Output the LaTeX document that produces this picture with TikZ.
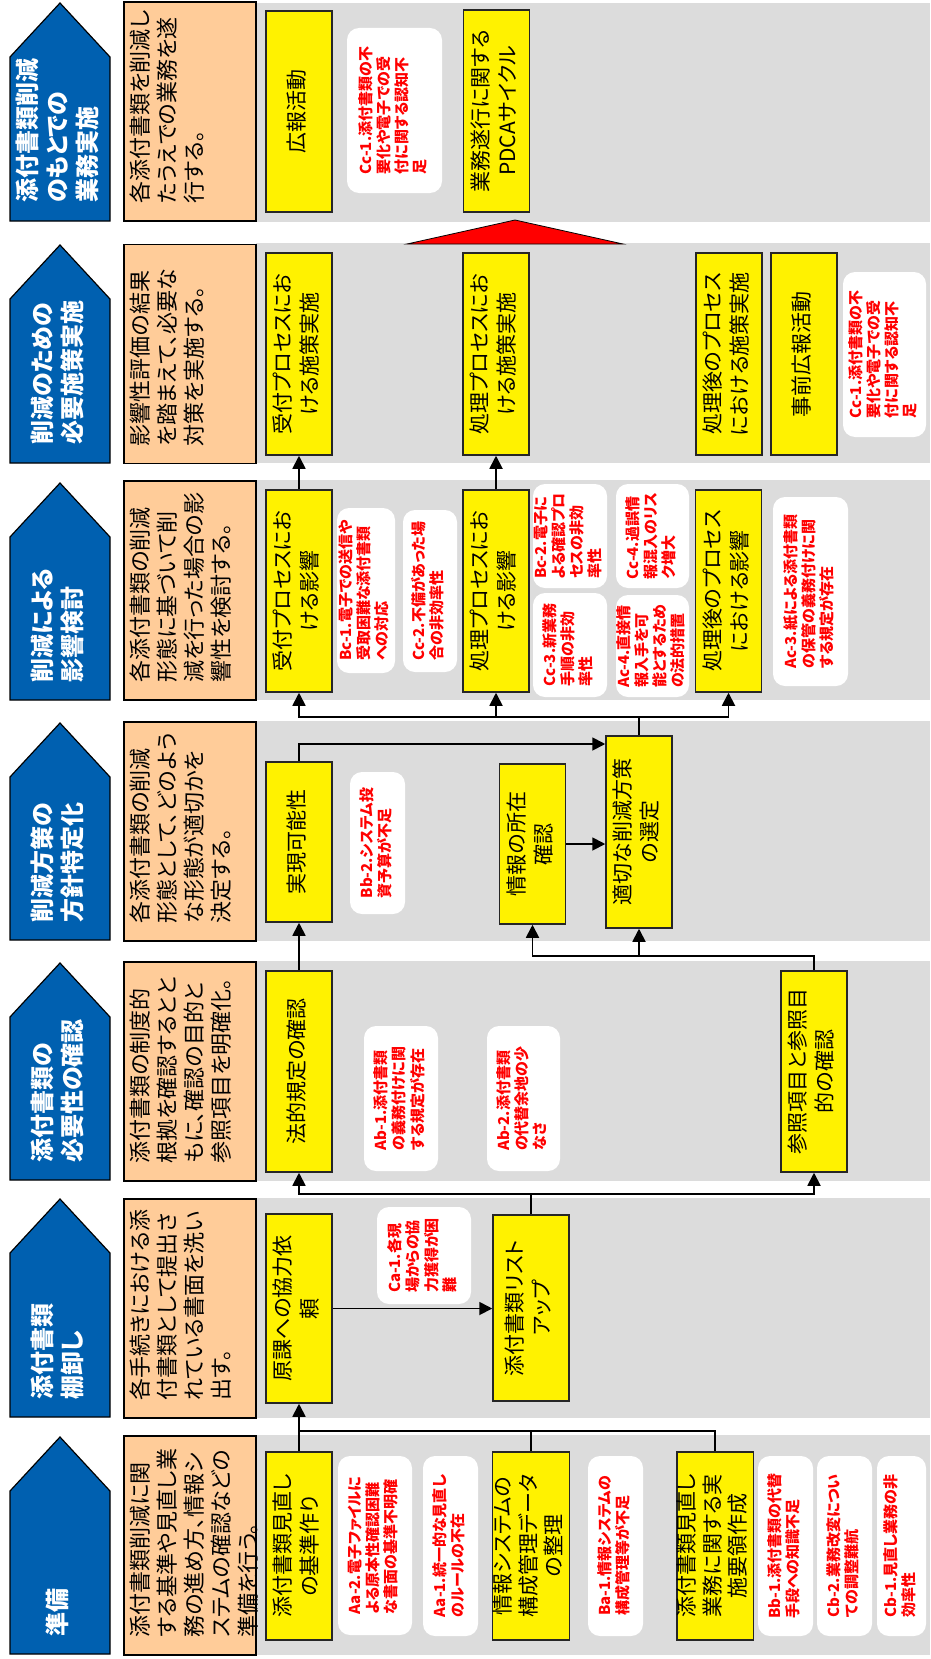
\documentclass[tikz,border=0pt]{standalone}
\usepackage{graphicx}
\usepackage{fontspec}
\setmainfont{Noto Sans CJK JP}[RawFeature=+palt]
\usetikzlibrary{arrows.meta, positioning}
\definecolor{stageblue}{RGB}{0,96,176}
\definecolor{descpeach}{RGB}{255,204,153}
\definecolor{bandgrey}{RGB}{220,220,220}
\newcommand{\vtextc}[1]{\rotatebox{90}{\begin{tabular}{@{}c@{}}#1\end{tabular}}}
\newcommand{\vtextl}[1]{\rotatebox{90}{\begin{tabular}{@{}l@{}}#1\end{tabular}}}

\begin{document}
\begin{tikzpicture}[
    x=1pt, y=-1pt,
    band/.style={fill=bandgrey, draw=none},
    stagearrow/.style={fill=stageblue, draw=black, line width=1.2pt},
    stagelabel/.style={
        text=white,
        inner sep=0pt,
        font=\bfseries\fontsize{24}{30}\selectfont
    },
    descbox/.style={
        rectangle,
        draw=black,
        line width=1.5pt,
        fill=descpeach,
        minimum width=132pt,
        minimum height=219pt
    },
    desctext/.style={
        inner sep=0pt,
        font=\fontsize{22}{27}\selectfont
    },
    taskbox/.style={
        rectangle,
        draw=black!85,
        line width=1.5pt,
        fill=yellow,
        minimum width=66pt,
        inner sep=0pt,
        font=\fontsize{21}{27}\selectfont
    },
    issuebox/.style={
        rectangle,
        rounded corners=12pt,
        fill=white,
        text=red,
        inner sep=0pt,
        font=\bfseries\fontsize{15}{17.5}\selectfont
    },
    link/.style={line width=1.8pt},
    arrow/.style={-{Triangle[width=13pt,length=13pt]}, line width=1.8pt}
]

\useasboundingbox (0,0) rectangle (930,1659);

\fill[band] (256,3) rectangle (930,222);
\fill[band] (256,243) rectangle (930,463);
\fill[band] (256,480) rectangle (930,700);
\fill[band] (256,721) rectangle (930,941);
\fill[band] (256,961) rectangle (930,1181);
\fill[band] (256,1198) rectangle (930,1418);
\fill[band] (256,1435) rectangle (930,1655);

\draw[stagearrow] (10,221) -- (10,57) -- (60,3) -- (110,57) -- (110,221) -- cycle;
\draw[stagearrow] (10,463) -- (10,299) -- (60,245) -- (110,299) -- (110,463) -- cycle;
\draw[stagearrow] (10,700) -- (10,537) -- (60,483) -- (110,537) -- (110,700) -- cycle;
\draw[stagearrow] (10,940) -- (10,777) -- (60,723) -- (110,777) -- (110,940) -- cycle;
\draw[stagearrow] (10,1180) -- (10,1017) -- (60,963) -- (110,1017) -- (110,1180) -- cycle;
\draw[stagearrow] (10,1417) -- (10,1253) -- (60,1199) -- (110,1253) -- (110,1417) -- cycle;
\draw[stagearrow] (10,1654) -- (10,1491) -- (60,1437) -- (110,1491) -- (110,1654) -- cycle;

\node[stagelabel, anchor=south] (st7) at (60,203) {\vtextl{添付書類削減\\のもとでの\\業務実施}};
\node[stagelabel, anchor=south] (st6) at (60,445) {\vtextl{削減のための\\必要施策実施}};
\node[stagelabel, anchor=south] (st5) at (60,683) {\vtextl{削減による\\影響検討}};
\node[stagelabel, anchor=south] (st4) at (60,923) {\vtextl{削減方策の\\方針特定化}};
\node[stagelabel, anchor=south] (st3) at (60,1163) {\vtextl{添付書類の\\必要性の確認}};
\node[stagelabel, anchor=south] (st2) at (60,1400) {\vtextl{添付書類\\棚卸し}};
\node[stagelabel, anchor=south] (st1) at (60,1637) {\vtextl{準備}};

\node[descbox] (d7) at (190,111.5) {};
\node[descbox] (d6) at (190,354) {};
\node[descbox] (d5) at (190,590.5) {};
\node[descbox] (d4) at (190,831.5) {};
\node[descbox] (d3) at (190,1071.5) {};
\node[descbox] (d2) at (190,1308.5) {};
\node[descbox] (d1) at (190,1545.5) {};

\node[desctext, above right=18pt and 6pt of d7.south west] (d7t) {\vtextl{各添付書類を削減し\\たうえでの業務を遂\\行する。}};
\node[desctext, above right=18pt and 6pt of d6.south west] (d6t) {\vtextl{影響性評価の結果\\を踏まえて、必要な\\対策を実施する。}};
\node[desctext, above right=18pt and 6pt of d5.south west] (d5t) {\vtextl{各添付書類の削減\\形態に基づいて削\\減を行った場合の影\\響性を検討する。}};
\node[desctext, above right=18pt and 6pt of d4.south west] (d4t) {\vtextl{各添付書類の削減\\形態として、どのよう\\な形態が適切かを\\決定する。}};
\node[desctext, above right=18pt and 6pt of d3.south west] (d3t) {\vtextl{添付書類の制度的\\根拠を確認するとと\\もに、確認の目的と\\参照項目を明確化。}};
\node[desctext, above right=18pt and 6pt of d2.south west] (d2t) {\vtextl{各手続きにおける添\\付書類として提出さ\\れている書面を洗い\\出す。}};
\node[desctext, above right=18pt and 6pt of d1.south west] (d1t) {\vtextl{添付書類削減に関\\する基準や見直し業\\務の進め方、情報シ\\ステムの確認などの\\準備を行う。}};

\node[taskbox, minimum height=201pt] (pr) at (299,111.5) {\vtextc{広報活動}};
\node[taskbox, minimum height=202pt] (pdca) at (496.5,111) {\vtextc{業務遂行に関する\\PDCAサイクル}};

\node[taskbox, minimum height=202pt] (ukeAct) at (299,354) {\vtextc{受付プロセスにお\\ける施策実施}};
\node[taskbox, minimum height=202pt] (shoriAct) at (496,354) {\vtextc{処理プロセスにお\\ける施策実施}};
\node[taskbox, minimum height=202pt] (shorigoAct) at (729,354) {\vtextc{処理後のプロセス\\における施策実施}};
\node[taskbox, minimum height=202pt] (prePr) at (804,354) {\vtextc{事前広報活動}};

\node[taskbox, minimum height=202pt] (ukeImp) at (299,591) {\vtextc{受付プロセスにお\\ける影響}};
\node[taskbox, minimum height=202pt] (shoriImp) at (496,591) {\vtextc{処理プロセスにお\\ける影響}};
\node[taskbox, minimum height=202pt] (shorigoImp) at (728.5,591) {\vtextc{処理後のプロセス\\における影響}};

\node[taskbox, minimum height=160pt] (jitsugen) at (299,842) {\vtextc{実現可能性}};
\node[taskbox, minimum height=160pt] (shozai) at (532.5,844) {\vtextc{情報の所在\\確認}};
\node[taskbox, minimum height=192pt] (tekisetsu) at (639,832) {\vtextc{適切な削減方策\\の選定}};

\node[taskbox, minimum height=201pt] (houteki) at (299,1071.5) {\vtextc{法的規定の確認}};
\node[taskbox, minimum height=201pt] (sansho) at (814,1071.5) {\vtextc{参照項目と参照目\\的の確認}};

\node[taskbox, minimum height=189pt] (genka) at (299,1308.5) {\vtextc{原課への協力依\\頼}};
\node[taskbox, minimum height=186pt, minimum width=76pt] (listup) at (531,1308) {\vtextc{添付書類リスト\\アップ}};

\node[taskbox, minimum height=188pt] (kijun) at (299,1546) {\vtextc{添付書類見直し\\の基準作り}};
\node[taskbox, minimum height=188pt, minimum width=76pt, font=\fontsize{21}{25.5}\selectfont] (sysdata) at (531,1546) {\vtextc{情報システムの\\構成管理データ\\の整理}};
\node[taskbox, minimum height=188pt, minimum width=76pt, font=\fontsize{21}{25.5}\selectfont] (youryou) at (715,1546) {\vtextc{添付書類見直し\\業務に関する実\\施要領作成}};

\node[issuebox, minimum width=95pt, minimum height=165pt] (iCc1a) at (394.5,110.5) {\vtextl{Cc-1.添付書類の不\\要化や電子での受\\付に関する認知不\\足}};
\node[issuebox, minimum width=83pt, minimum height=165pt] (iCc1b) at (884.5,354.5) {\vtextl{Cc-1.添付書類の不\\要化や電子での受\\付に関する認知不\\足}};
\node[issuebox, minimum width=58pt, minimum height=165pt] (iBc1) at (366,590.5) {\vtextl{Bc-1.電子での送信や\\受取困難な添付書類\\への対応}};
\node[issuebox, minimum width=54pt, minimum height=162pt] (iCc2) at (430,591) {\vtextl{Cc-2.不備があった場\\合の非効率性}};
\node[issuebox, minimum width=74pt, minimum height=104pt] (iBc2) at (570,536) {\vtextl{Bc-2.電子に\\よる確認プロ\\セスの非効\\率性}};
\node[issuebox, minimum width=74pt, minimum height=104pt] (iCc3) at (570,645) {\vtextl{Cc-3.新業務\\手順の非効\\率性}};
\node[issuebox, minimum width=73pt, minimum height=104pt] (iCc4) at (652.5,536) {\vtextl{Cc-4.過誤情\\報混入のリス\\ク増大}};
\node[issuebox, minimum width=73pt, minimum height=102pt] (iAc4) at (652.5,646) {\vtextl{Ac-4.直接情\\報入手を可\\能とするため\\の法的措置}};
\node[issuebox, minimum width=75pt, minimum height=189pt] (iAc3) at (810.5,591.5) {\vtextl{Ac-3.紙による添付書類\\の保管の義務付けに関\\する規定が存在}};
\node[issuebox, minimum width=55pt, minimum height=142pt] (iBb2) at (377.5,843) {\vtextl{Bb-2.システム投\\資予算が不足}};
\node[issuebox, minimum width=74pt, minimum height=145pt] (iAb1) at (401,1098.5) {\vtextl{Ab-1.添付書類\\の義務付けに関\\する規定が存在}};
\node[issuebox, minimum width=73pt, minimum height=145pt] (iAb2) at (523.5,1098.5) {\vtextl{Ab-2.添付書類\\の代替余地の少\\なさ}};
\node[issuebox, minimum width=94pt, minimum height=97pt] (iCa1) at (424,1255.5) {\vtextl{Ca-1.各現\\場からの協\\力獲得が困\\難}};
\node[issuebox, minimum width=74pt, minimum height=179pt] (iAa2) at (375,1545.5) {\vtextl{Aa-2.電子ファイルに\\よる原本性確認困難\\な書面の基準不明確}};
\node[issuebox, minimum width=55pt, minimum height=180pt] (iAa1) at (450.5,1546) {\vtextl{Aa-1.統一的な見直し\\のルールの不在}};
\node[issuebox, minimum width=55pt, minimum height=180pt] (iBa1) at (615.5,1546) {\vtextl{Ba-1.情報システムの\\構成管理等が不足}};
\node[issuebox, minimum width=55pt, minimum height=180pt] (iBb1) at (785.5,1546) {\vtextl{Bb-1.添付書類の代替\\手段への知識不足}};
\node[issuebox, minimum width=55pt, minimum height=180pt] (iCb2) at (844.5,1546) {\vtextl{Cb-2.業務改変につい\\ての調整難航}};
\node[issuebox, minimum width=49pt, minimum height=180pt] (iCb1) at (901.5,1546) {\vtextl{Cb-1.見直し業務の非\\効率性}};

\draw[fill=red, line width=0.8pt] (407,244) -- (515,220) -- (623,244) -- cycle;

\coordinate (j1) at (299,1431);
\coordinate (j2) at (531,1194);
\coordinate (j3) at (814,956);
\coordinate (j4) at (299,744);
\coordinate (j5) at (639,717);

\draw[link] (kijun.north) -- (j1) -| (sysdata.north);
\draw[link] (j1) -| (youryou.north);
\draw[arrow] (j1) -- (genka.south);
\draw[arrow] (genka.east) -- (genka.east -| listup.west);
\draw[link] (listup.north) -- (j2);
\draw[arrow] (j2) -| (houteki.south);
\draw[arrow] (j2) -| (sansho.south);
\draw[arrow] (houteki.north) -- (jitsugen.south);
\draw[arrow] (sansho.north) -- (j3) -| (shozai.south);
\draw[arrow] (j3 -| tekisetsu.south) -- (tekisetsu.south);
\draw[arrow] (shozai.east) -- (shozai.east -| tekisetsu.west);
\draw[arrow] (jitsugen.north) -- (j4) -- (j4 -| tekisetsu.west);
\draw[link] (tekisetsu.north) -- (j5);
\draw[arrow] (j5) -| (ukeImp.south);
\draw[arrow] (j5) -| (shoriImp.south);
\draw[arrow] (j5) -| (shorigoImp.south);
\draw[arrow] (ukeImp.north) -- (ukeAct.south);
\draw[arrow] (shoriImp.north) -- (shoriAct.south);

\end{tikzpicture}
\end{document}
